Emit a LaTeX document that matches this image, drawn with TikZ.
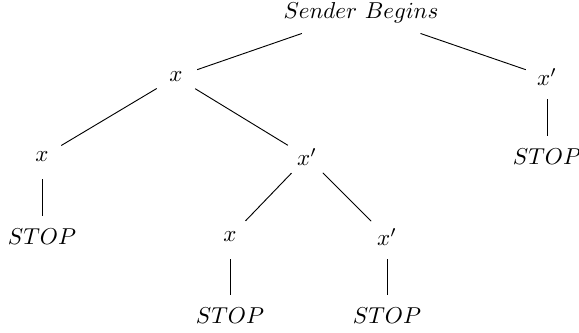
\documentclass[tikz,border=0pt]{standalone}
\begin{document}
\begin{tikzpicture}[x=0.435pt,y=-0.435pt,
  choice/.style={circle,minimum size=19.1pt,inner sep=0pt},
  stopnode/.style={rectangle,minimum height=18.3pt,inner sep=0pt},
  rootnode/.style={rectangle,minimum height=17.4pt,minimum width=61pt,inner sep=0pt},
  branch/.style={line width=0.4pt}]
\useasboundingbox (0,0) rectangle (579,333);
\node[rootnode] (sb) at (361,13) {$Sender\ Begins$};
\node[choice] (a) at (176,77) {$x$};
\node[choice] (b) at (547,77) {$x'$};
\node[choice] (c) at (42,157) {$x$};
\node[choice] (d) at (307,157) {$x'$};
\node[stopnode] (s1) at (547,157) {$STOP$};
\node[stopnode] (s2) at (42,237) {$STOP$};
\node[choice] (e) at (230,237) {$x$};
\node[choice] (f) at (387,237) {$x'$};
\node[stopnode] (s3) at (230,316) {$STOP$};
\node[stopnode] (s4) at (387,316) {$STOP$};
\draw[branch] (sb) -- (a);
\draw[branch] (sb) -- (b);
\draw[branch] (a) -- (c);
\draw[branch] (a) -- (d);
\draw[branch] (b) -- (s1);
\draw[branch] (c) -- (s2);
\draw[branch] (d) -- (e);
\draw[branch] (d) -- (f);
\draw[branch] (e) -- (s3);
\draw[branch] (f) -- (s4);
\end{tikzpicture}
\end{document}
